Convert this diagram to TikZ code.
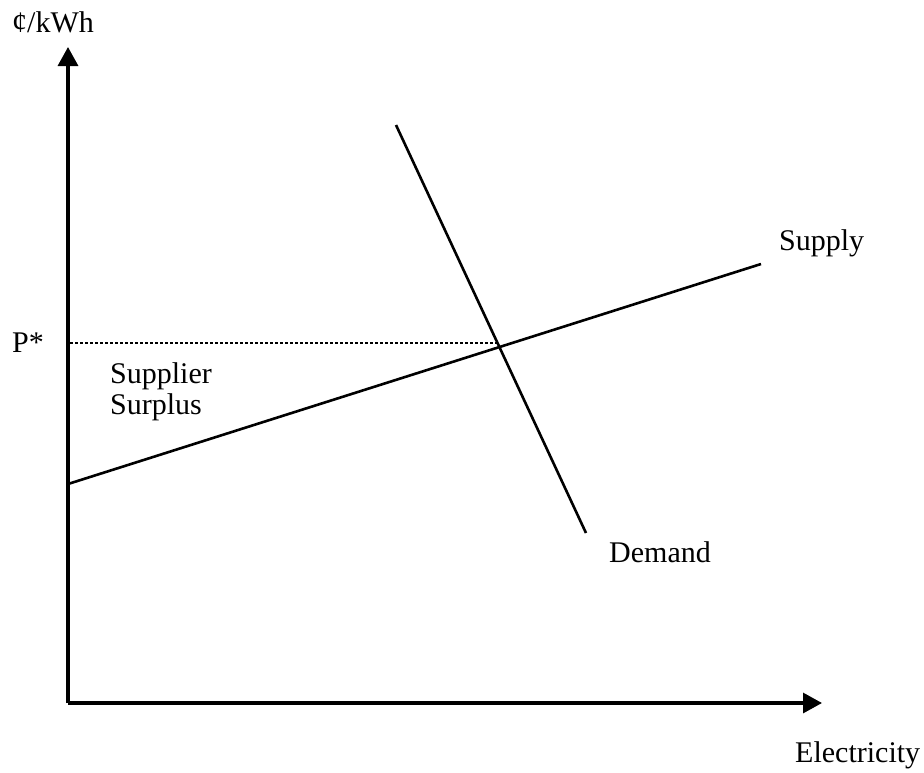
\documentclass[tikz,border=0pt]{standalone}
\usepackage{fontspec}
\setmainfont{Liberation Serif}
\usetikzlibrary{arrows.meta}
\begin{document}
\begin{tikzpicture}[x=1pt,y=-1pt,
  lbl/.style={anchor=base west,inner sep=0pt,font=\fontsize{30}{33}\selectfont},
  axis/.style={line width=3.2pt,-{Triangle[length=19pt,width=20pt]}},
  curve/.style={line width=2.6pt},
  pline/.style={line width=2.6pt,dash pattern=on 3pt off 2pt}]
\useasboundingbox (0,0) rectangle (924,772);
\coordinate (O) at (68,703);
\coordinate (ytip) at (68,47);
\coordinate (xtip) at (822,703);
\coordinate (s0) at (68,484);
\coordinate (s1) at (761,264);
\coordinate (d0) at (396,125);
\coordinate (d1) at (586,533);
\coordinate (p0) at (70,343);
\coordinate (p1) at (498,343);
\draw[axis] (O) -- (ytip);
\draw[axis] (O) -- (xtip);
\draw[curve] (s0) -- (s1);
\draw[curve] (d0) -- (d1);
\draw[pline] (p0) -- (p1);
\node[lbl] (ylab) at (12,32) {¢/kWh};
\node[lbl] (pstar) at (12,352) {P*};
\node[lbl] (sup1) at (110,383) {Supplier};
\node[lbl] (sup2) at (110,414) {Surplus};
\node[lbl] (supply) at (779,250) {Supply};
\node[lbl] (demand) at (609,562) {Demand};
\node[lbl] (xlab) at (795,762) {Electricity};
\end{tikzpicture}
\end{document}
